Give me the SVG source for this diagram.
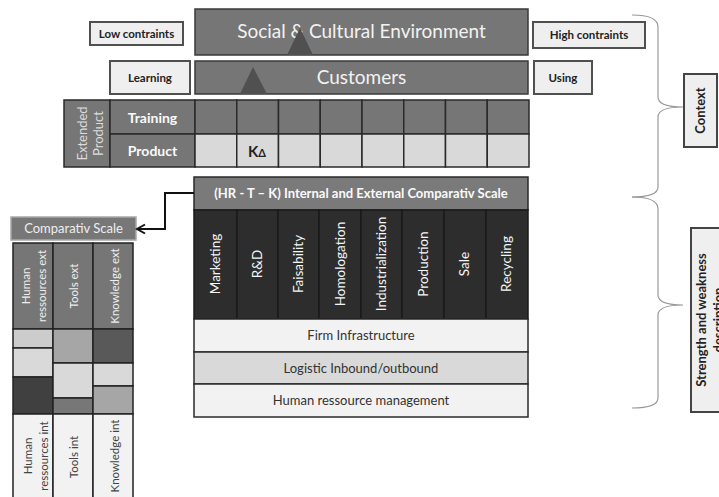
<svg xmlns="http://www.w3.org/2000/svg" width="719" height="497" viewBox="0 0 719 497">
<style>
text{font-family:Lato,"Open Sans","Liberation Sans",sans-serif;}
.lbox{fill:#efefef;stroke:#505050;stroke-width:2;}
.lbt{font-size:11.5px;font-weight:bold;fill:#222;text-anchor:middle;}
.band{fill:#767676;stroke:#3a3a3a;stroke-width:1.5;}
.bandt{font-size:19px;fill:#f2f2f2;text-anchor:middle;}
.tri{fill:#505050;}
.dk{fill:#767676;stroke:#2a2a2a;stroke-width:1.5;}
.lt{fill:#d9d9d9;stroke:#2a2a2a;stroke-width:1.5;}
.wb{font-size:14px;font-weight:bold;fill:#fafafa;text-anchor:middle;}
.act{fill:#2d2d2d;stroke:#1a1a1a;stroke-width:1.5;}
.actt{font-size:13.5px;fill:#f5f5f5;text-anchor:middle;}
.sup{stroke:#2a2a2a;stroke-width:1.5;}
.supt{font-size:13px;fill:#333;text-anchor:middle;}
.cell{stroke:#222;stroke-width:1.5;}
.rot{font-size:11.5px;text-anchor:middle;}
.brace{fill:none;stroke:#999;stroke-width:1.2;}
.side{fill:#efefef;stroke:#444;stroke-width:2;}
.sidet{font-size:13px;font-weight:bold;fill:#222;text-anchor:middle;}
</style>
<defs>
<marker id="arr" markerWidth="12" markerHeight="12" refX="10" refY="6" orient="auto" markerUnits="userSpaceOnUse">
<path d="M2,1.5 L10,6 L2,10.5" fill="none" stroke="#111" stroke-width="2"/>
</marker>
</defs>

<g id="low-contraints"><rect class="lbox" x="90" y="22" width="93" height="23"/><text class="lbt" x="136.5" y="37.5">Low contraints</text></g>
<g id="learning"><rect class="lbox" x="110" y="61" width="80" height="33"/><text class="lbt" x="150" y="81.5">Learning</text></g>
<g id="high-contraints"><rect class="lbox" x="533" y="22" width="112" height="26"/><text class="lbt" x="589" y="39">High contraints</text></g>
<g id="using"><rect class="lbox" x="534" y="61" width="58" height="33"/><text class="lbt" x="563" y="81.5">Using</text></g>

<g id="social"><rect class="band" x="195" y="9" width="333" height="46"/><text class="bandt" x="361.5" y="38">Social &amp; Cultural Environment</text><path class="tri" d="M287,55 L300,28 L313,55 Z"/></g>
<g id="customers"><rect class="band" x="195" y="61" width="333" height="33"/><text class="bandt" x="361.5" y="84">Customers</text><path class="tri" d="M240,94 L253,67 L267,94 Z"/></g>

<g id="extended-product">
<rect class="dk" x="64" y="100" width="46" height="67"/>
<text font-size="13" fill="#dcdcdc" text-anchor="middle" transform="translate(87,133.5) rotate(-90)"><tspan x="0" y="0">Extended</tspan><tspan x="0" y="16">Product</tspan></text>
<rect class="dk" x="110" y="100" width="85" height="34"/>
<rect class="dk" x="110" y="134" width="85" height="33"/>
<text class="wb" x="152.5" y="123">Training</text>
<text class="wb" x="152.5" y="156">Product</text>
<rect class="dk" x="195" y="100" width="41.75" height="34"/><rect class="dk" x="236.75" y="100" width="41.75" height="34"/><rect class="dk" x="278.5" y="100" width="41.75" height="34"/><rect class="dk" x="320.25" y="100" width="41.75" height="34"/><rect class="dk" x="362" y="100" width="41.75" height="34"/><rect class="dk" x="403.75" y="100" width="41.75" height="34"/><rect class="dk" x="445.5" y="100" width="41.75" height="34"/><rect class="dk" x="487.25" y="100" width="41.75" height="34"/>
<rect class="lt" x="195" y="134" width="41.75" height="33"/><rect class="lt" x="236.75" y="134" width="41.75" height="33"/><rect class="lt" x="278.5" y="134" width="41.75" height="33"/><rect class="lt" x="320.25" y="134" width="41.75" height="33"/><rect class="lt" x="362" y="134" width="41.75" height="33"/><rect class="lt" x="403.75" y="134" width="41.75" height="33"/><rect class="lt" x="445.5" y="134" width="41.75" height="33"/><rect class="lt" x="487.25" y="134" width="41.75" height="33"/>
<text x="248" y="157" font-size="15" font-weight="bold" fill="#222">K<tspan font-size="11">Δ</tspan></text>
</g>

<g id="value-chain">
<rect x="194" y="177" width="334" height="33" fill="#7a7a7a" stroke="#2a2a2a" stroke-width="1.5"/>
<text x="361" y="198" font-size="13" font-weight="bold" fill="#fafafa" text-anchor="middle">(HR - T – K) Internal and External Comparativ Scale</text>
<rect class="act" x="194" y="210" width="43" height="109"/><rect class="act" x="237" y="210" width="41" height="109"/><rect class="act" x="278" y="210" width="41" height="109"/><rect class="act" x="319" y="210" width="42" height="109"/><rect class="act" x="361" y="210" width="41" height="109"/><rect class="act" x="402" y="210" width="42" height="109"/><rect class="act" x="444" y="210" width="42" height="109"/><rect class="act" x="486" y="210" width="42" height="109"/>
<text class="actt" transform="translate(220,264) rotate(-90)">Marketing</text>
<text class="actt" transform="translate(262,264) rotate(-90)">R&amp;D</text>
<text class="actt" transform="translate(303,264) rotate(-90)">Faisability</text>
<text class="actt" transform="translate(344.5,264) rotate(-90)">Homologation</text>
<text class="actt" transform="translate(386,264) rotate(-90)">Industrialization</text>
<text class="actt" transform="translate(427.5,264) rotate(-90)">Production</text>
<text class="actt" transform="translate(469,264) rotate(-90)">Sale</text>
<text class="actt" transform="translate(511,264) rotate(-90)">Recycling</text>
<rect class="sup" x="194" y="319" width="334" height="33" fill="#f2f2f2"/><text class="supt" x="361" y="340">Firm Infrastructure</text>
<rect class="sup" x="194" y="352" width="334" height="32" fill="#d9d9d9"/><text class="supt" x="361" y="372.5">Logistic Inbound/outbound</text>
<rect class="sup" x="194" y="384" width="334" height="33" fill="#f2f2f2"/><text class="supt" x="361" y="405">Human ressource management</text>
</g>

<g id="comparativ-scale">
<rect x="11" y="217" width="125" height="23" fill="#777" stroke="#a8a8a8" stroke-width="1.5"/>
<text x="73.5" y="233" font-size="13" fill="#eeeeee" text-anchor="middle">Comparativ Scale</text>
<rect class="cell" x="13" y="243" width="40" height="86" fill="#767676"/><rect class="cell" x="53" y="243" width="40" height="86" fill="#767676"/><rect class="cell" x="93" y="243" width="40" height="86" fill="#767676"/>
<text class="rot" fill="#eeeeee" transform="translate(30,286) rotate(-90)"><tspan x="0" y="0">Human</tspan><tspan x="0" y="16">ressources ext</tspan></text>
<text class="rot" fill="#eeeeee" transform="translate(78,286) rotate(-90)">Tools ext</text>
<text class="rot" fill="#eeeeee" transform="translate(119,286) rotate(-90)">Knowledge ext</text>
<rect class="cell" x="13" y="329" width="40" height="19" fill="#cccccc"/><rect class="cell" x="13" y="348" width="40" height="29" fill="#d9d9d9"/><rect class="cell" x="13" y="377" width="40" height="37" fill="#404040"/>
<rect class="cell" x="53" y="329" width="40" height="34" fill="#a6a6a6"/><rect class="cell" x="53" y="363" width="40" height="35" fill="#d9d9d9"/><rect class="cell" x="53" y="398" width="40" height="16" fill="#777777"/>
<rect class="cell" x="93" y="329" width="40" height="34" fill="#595959"/><rect class="cell" x="93" y="363" width="40" height="23" fill="#d9d9d9"/><rect class="cell" x="93" y="386" width="40" height="28" fill="#a6a6a6"/>
<rect class="cell" x="13" y="414" width="40" height="86" fill="#f2f2f2"/><rect class="cell" x="53" y="414" width="40" height="86" fill="#f2f2f2"/><rect class="cell" x="93" y="414" width="40" height="86" fill="#f2f2f2"/>
<text class="rot" fill="#444" transform="translate(32,456) rotate(-90)"><tspan x="0" y="0">Human</tspan><tspan x="0" y="15.5">ressources int</tspan></text>
<text class="rot" fill="#444" transform="translate(78,457) rotate(-90)">Tools int</text>
<text class="rot" fill="#444" transform="translate(119,456) rotate(-90)">Knowledge int</text>
</g>

<g id="connectors">
<path d="M194,193 L165,193 L165,229 L137,229" fill="none" stroke="#111" stroke-width="2" marker-end="url(#arr)"/>
<path class="brace" d="M632,15 Q658,15 658,27 L658,97 Q658,107 683,107 Q658,107 658,117 L658,187 Q658,197 632,197"/>
<path class="brace" d="M632,197 Q658,197 658,209 L658,295 Q658,305 683,305 Q658,305 658,315 L658,398 Q658,408 632,408"/>
</g>

<g id="context"><rect class="side" x="684" y="74" width="33" height="73"/><text class="sidet" transform="translate(705,110.5) rotate(-90)">Context</text></g>
<g id="strength"><rect class="side" x="691" y="228" width="60" height="184"/><text class="sidet" transform="translate(706,320) rotate(-90)"><tspan x="0" y="0">Strength and weakness</tspan><tspan x="0" y="17">description</tspan></text></g>
</svg>
